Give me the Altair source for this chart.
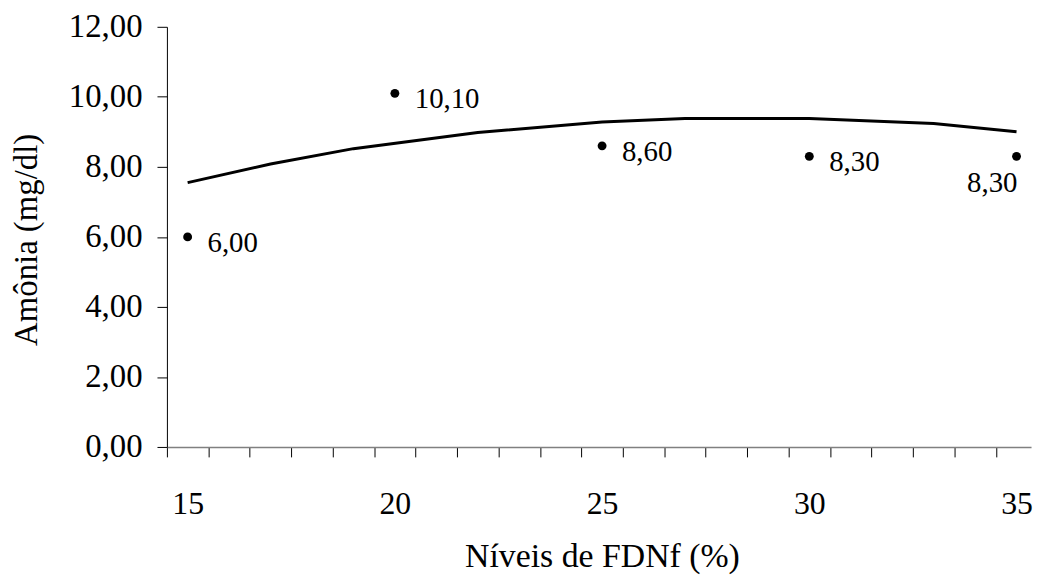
import altair as alt
import pandas as pd

# ---- data ----
levels = [15, 20, 25, 30, 35]
ammonia = [6.00, 10.10, 8.60, 8.30, 8.30]
trend_x = [15, 17, 19, 22, 25, 27, 30, 33, 35]
trend_y = [7.55, 8.08, 8.52, 8.98, 9.28, 9.38, 9.38, 9.24, 9.00]
y_ticks = [0, 2, 4, 6, 8, 10, 12]
x_label_ticks = [15, 20, 25, 30, 35]
x_minor_ticks = [14.5 + i for i in range(21)]

points = pd.DataFrame({
    "x": levels,
    "y": ammonia,
    "label": [f"{v:.2f}".replace(".", ",") for v in ammonia],
})
trend = pd.DataFrame({"x": trend_x, "y": trend_y})

FONT = "Liberation Serif"

xscale = alt.Scale(domain=[14.5, 35.35], nice=False, zero=False)
yscale = alt.Scale(domain=[0, 12], nice=False)

xaxis = alt.Axis(
    values=sorted(x_minor_ticks + x_label_ticks),
    labelExpr="datum.value % 5 == 0 ? format(datum.value, 'd') : ''",
    tickOpacity={"condition": {"test": "datum.value % 5 == 0", "value": 0}, "value": 1},
    tickSize=10, tickColor="black", tickWidth=1,
    domainColor="#808080", domainWidth=1.5,
    labelFont=FONT, labelFontSize=32, labelColor="black",
    labelPadding=32, labelOverlap=False, labelFlush=False,
    grid=False,
    title="Níveis de FDNf (%)", titleFont=FONT, titleFontSize=34,
    titleFontWeight="normal", titleColor="black",
    titleBaseline="alphabetic", titleX=438, titleY=120,
)
yaxis = alt.Axis(
    values=y_ticks,
    labelExpr="replace(format(datum.value, '.2f'), '.', ',')",
    tickSize=10, tickColor="black", domainColor="black",
    labelFont=FONT, labelFontSize=33, labelColor="black",
    labelPadding=15, labelOverlap=False, labelFlush=False,
    grid=False,
    title="Amônia (mg/dl)", titleFont=FONT, titleFontSize=33,
    titleFontWeight="normal", titleColor="black",
    titleBaseline="alphabetic", titleX=-131, titleY=214, titleAngle=-90,
)

xenc = alt.X("x:Q", scale=xscale, axis=xaxis)
yenc = alt.Y("y:Q", scale=yscale, axis=yaxis)

line = alt.Chart(trend).mark_line(color="black", strokeWidth=3).encode(x=xenc, y=yenc)
pts = alt.Chart(points).mark_point(filled=True, color="black", size=80, opacity=1).encode(x=xenc, y=yenc)
lab_right = alt.Chart(points).transform_filter("datum.x < 35").mark_text(
    align="left", baseline="alphabetic", dx=20, dy=15, font=FONT, fontSize=29, color="black"
).encode(x=xenc, y=yenc, text="label:N")
lab_last = alt.Chart(points).transform_filter("datum.x >= 35").mark_text(
    align="right", baseline="alphabetic", dx=1, dy=36, font=FONT, fontSize=29, color="black"
).encode(x=xenc, y=yenc, text="label:N")

chart = alt.layer(line, pts, lab_right, lab_last).properties(
    width=870,
    height=423,
    padding={"left": 160, "top": 17, "right": 6, "bottom": 130},
    autosize=alt.AutoSizeParams(type="none"),
).configure_view(stroke=None)

chart.save("out.html", embed_options={"renderer": "svg", "actions": False})
